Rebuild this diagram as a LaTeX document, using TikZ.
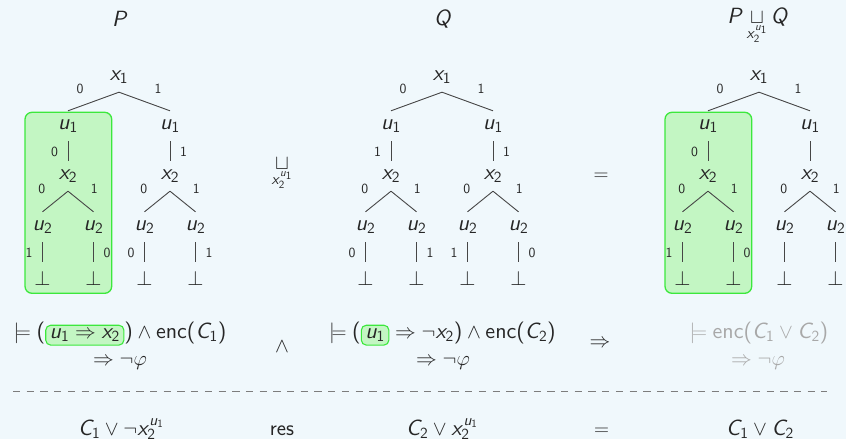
\documentclass[tikz,border=0pt]{standalone}
\renewcommand\familydefault{\sfdefault}
\DeclareFontFamily{OT1}{myss}{}
\DeclareFontShape{OT1}{myss}{m}{n}{<->cmss10}{}
\DeclareFontShape{OT1}{myss}{m}{sl}{<->cmssi10}{}
\DeclareSymbolFont{sfup}{OT1}{myss}{m}{n}
\DeclareSymbolFont{sfit}{OT1}{myss}{m}{sl}
\DeclareMathAlphabet{\mathsfx}{OT1}{myss}{m}{n}
\newcount\mymc
\mymc=97 \loop\mathcode\mymc=\numexpr"7000+"100*\symsfit+\mymc\relax\advance\mymc by 1 \ifnum\mymc<123 \repeat
\mymc=65 \loop\mathcode\mymc=\numexpr"7000+"100*\symsfit+\mymc\relax\advance\mymc by 1 \ifnum\mymc<91 \repeat
\mymc=48 \loop\mathcode\mymc=\numexpr"7000+"100*\symsfup+\mymc\relax\advance\mymc by 1 \ifnum\mymc<58 \repeat
\mathcode`(=\numexpr"4000+"100*\symsfup+40\relax
\mathcode`)=\numexpr"5000+"100*\symsfup+41\relax
\definecolor{bgc}{RGB}{240,248,252}
\definecolor{txt}{RGB}{38,38,38}
\definecolor{edgec}{RGB}{70,70,70}
\definecolor{hlfill}{RGB}{195,246,195}
\definecolor{hldraw}{RGB}{60,232,60}
\definecolor{faded}{RGB}{168,168,168}
\definecolor{dashc}{RGB}{125,125,125}
\newcommand\mfont{\fontsize{22}{26}\selectfont}
\newcommand\lfont{\fontsize{14}{16}\selectfont}
\newcommand\hlm[2]{\tikz[baseline=(#1.base)]\node[hlin,anchor=center](#1){$#2$};}
\newcommand\mktree[2]{%
  \node[tn] (#1x)  at (#2,77) {$x_1$};
  \node[tn] (#1ua) at (#2-51,126) {$u_1$};
  \node[tn] (#1ub) at (#2+51,126) {$u_1$};
  \node[tn] (#1xa) at (#2-51,176) {$x_2$};
  \node[tn] (#1xb) at (#2+51,176) {$x_2$};
  \node[tn] (#1va) at (#2-76.5,227) {$u_2$};
  \node[tn] (#1vb) at (#2-25.5,227) {$u_2$};
  \node[tn] (#1vc) at (#2+25.5,227) {$u_2$};
  \node[tn] (#1vd) at (#2+76.5,227) {$u_2$};
  \node[bt] (#1ba) at (#2-76.5,282) {$\bot$};
  \node[bt] (#1bb) at (#2-25.5,282) {$\bot$};
  \node[bt] (#1bc) at (#2+25.5,282) {$\bot$};
  \node[bt] (#1bd) at (#2+76.5,282) {$\bot$};
}
\newcommand\dl[3]{\draw[ed] (#1.south) -- node[lab,shift={(-13.5,-12.5)}]{#3} (#2.north);}
\newcommand\dr[3]{\draw[ed] (#1.south) -- node[lab,shift={(13.5,-12.5)}]{#3} (#2.north);}
\newcommand\vl[3]{\draw[ed] (#1.south) -- node[lab,shift={(-13.5,1)}]{#3} (#2.north);}
\newcommand\vr[3]{\draw[ed] (#1.south) -- node[lab,shift={(13.5,1)}]{#3} (#2.north);}
\newcommand\vn[2]{\draw[ed] (#1.south) -- (#2.north);}
\begin{document}
\begin{tikzpicture}[x=1pt,y=-1pt,
  every node/.style={text=txt},
  tn/.style={inner sep=0pt, minimum height=30pt, text height=10pt, text depth=4pt, font=\mfont},
  bt/.style={tn, minimum height=40pt},
  lab/.style={inner sep=0pt, font=\lfont},
  ed/.style={draw=edgec, line width=0.9pt},
  hlbox/.style={fill=hlfill, draw=hldraw, line width=1.3pt, rounded corners=7pt},
  hlin/.style={fill=hlfill, draw=hldraw, line width=1.1pt, rounded corners=5pt, inner xsep=4pt, inner ysep=3.5pt, text=txt},
  fm/.style={inner sep=0pt, font=\mfont, anchor=base},
  dashline/.style={draw=dashc, line width=0.8pt, dash pattern=on 7.3pt off 6.4pt}]
\useasboundingbox (0,0) rectangle (846,439);
\clip (0,0) rectangle (846,439);
\fill[bgc] (0,0) rectangle (846,439);
% highlight regions
\path[hlbox] (25,112.3) rectangle (111.7,293.3);
\path[hlbox] (665,112.3) rectangle (751.7,293.3);
% titles
\node[fm] (tP) at (120,26.5) {$P$};
\node[fm] (tQ) at (443,25.5) {$Q$};
\node[fm] (tPQ) at (758,23.5) {$P \mathop{\sqcup}\limits_{x_2^{u_1}} Q$};
% trees
\mktree{P}{119}
\mktree{Q}{442}
\mktree{R}{759}
\dl{Px}{Pua}{0} \dr{Px}{Pub}{1}
\vl{Pua}{Pxa}{0} \vr{Pub}{Pxb}{1}
\dl{Pxa}{Pva}{0} \dr{Pxa}{Pvb}{1} \dl{Pxb}{Pvc}{0} \dr{Pxb}{Pvd}{1}
\vl{Pva}{Pba}{1} \vr{Pvb}{Pbb}{0} \vl{Pvc}{Pbc}{0} \vr{Pvd}{Pbd}{1}
\dl{Qx}{Qua}{0} \dr{Qx}{Qub}{1}
\vl{Qua}{Qxa}{1} \vr{Qub}{Qxb}{1}
\dl{Qxa}{Qva}{0} \dr{Qxa}{Qvb}{1} \dl{Qxb}{Qvc}{0} \dr{Qxb}{Qvd}{1}
\vl{Qva}{Qba}{0} \vr{Qvb}{Qbb}{1} \vl{Qvc}{Qbc}{1} \vr{Qvd}{Qbd}{0}
\dl{Rx}{Rua}{0} \dr{Rx}{Rub}{1}
\vl{Rua}{Rxa}{0} \vn{Rub}{Rxb}
\dl{Rxa}{Rva}{0} \dr{Rxa}{Rvb}{1} \dl{Rxb}{Rvc}{0} \dr{Rxb}{Rvd}{1}
\vl{Rva}{Rba}{1} \vr{Rvb}{Rbb}{0} \vn{Rvc}{Rbc} \vn{Rvd}{Rbd}
% operators between trees
\node[font=\mfont, inner sep=0pt] (op1) at (282,174) {$\mathop{\sqcup}\limits_{x_2^{u_1}}$};
\node[font=\mfont, inner sep=0pt] (op2) at (601,177) {$=$};
% formulas
\node[fm] (pf1) at (120,338.5) {$\models (\hlm{hp}{u_1 \Rightarrow x_2}) \wedge \mathsfx{enc}(C_1)$};
\node[fm] (pf2) at (120,365) {$\Rightarrow \neg\varphi$};
\node[fm] (qf1) at (442.5,338.5) {$\models (\hlm{hq}{u_1} \Rightarrow \neg x_2) \wedge \mathsfx{enc}(C_2)$};
\node[fm] (qf2) at (443,365) {$\Rightarrow \neg\varphi$};
\node[fm, text=faded] (rf1) at (759,338.5) {$\models \mathsfx{enc}(C_1 \vee C_2)$};
\node[fm, text=faded] (rf2) at (758,365) {$\Rightarrow \neg\varphi$};
\node[font=\mfont, inner sep=0pt] (and) at (282,347) {$\wedge$};
\node[font=\mfont, inner sep=0pt] (imp) at (600,343.5) {$\Rightarrow$};
% dashed rule
\path[dashline] (13,391.7) -- (827,391.7);
% resolution row
\node[fm] (c1) at (121,435) {$C_1 \vee \neg x_2^{u_1}$};
\node[fm] (res) at (282,435) {res};
\node[fm] (c2) at (442,435) {$C_2 \vee x_2^{u_1}$};
\node[fm] (eq) at (601.7,435) {$=$};
\node[fm] (c3) at (760,435) {$C_1 \vee C_2$};
\end{tikzpicture}
\end{document}
